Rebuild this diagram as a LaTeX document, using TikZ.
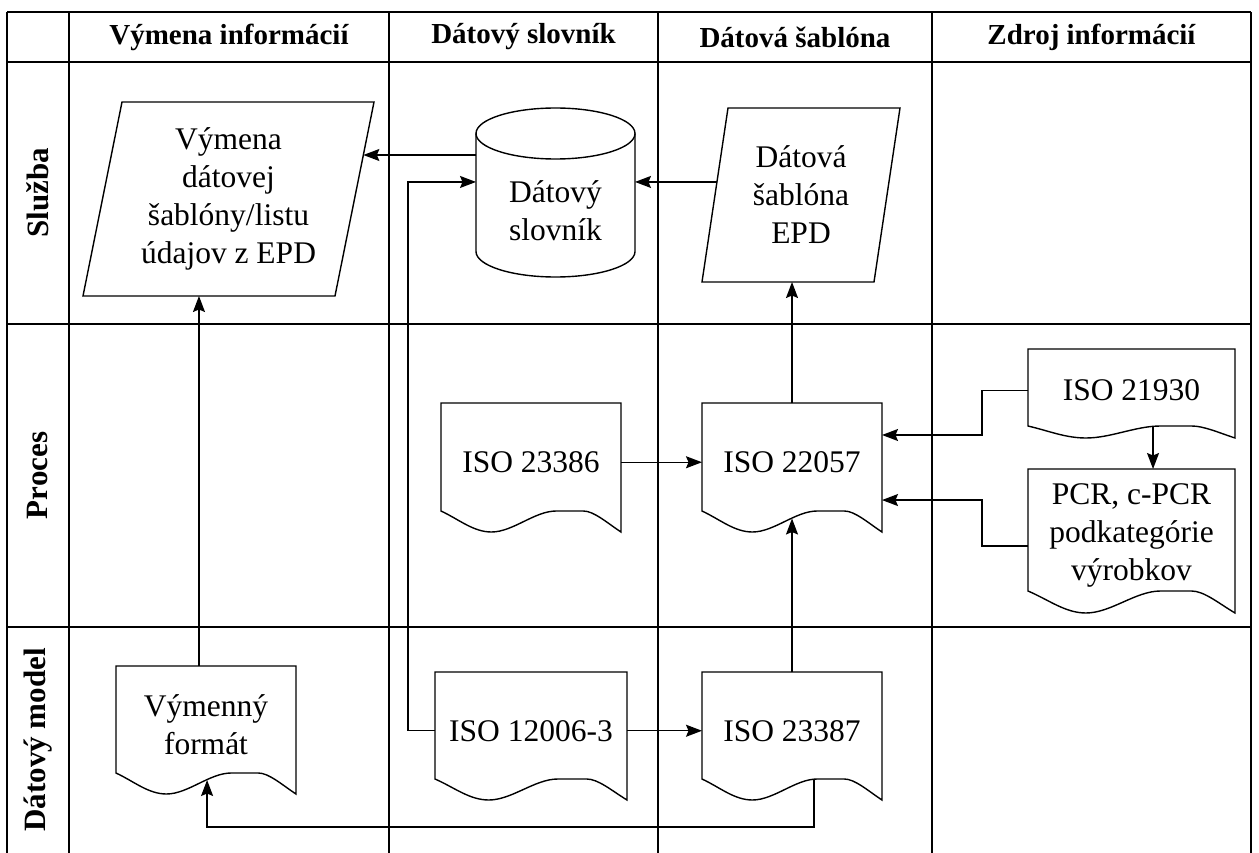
\documentclass[tikz,border=0pt]{standalone}
\usepackage{fontspec}
\setmainfont{Liberation Serif}
\usetikzlibrary{arrows.meta,calc}
\newcommand{\mainfs}{\fontsize{31.5}{38}\selectfont}
\newcommand{\hdrfs}{\fontsize{29}{34}\selectfont\bfseries}
\newcommand{\rowfs}{\fontsize{31}{36}\selectfont\bfseries}
% document outline: #1 node name, #2 half wave amplitude
\newcommand{\docout}[2]{%
 \draw[outl] ($(#1.south west)+(0,-#2)$) -- (#1.north west) -- (#1.north east) -- ($(#1.south east)+(0,#2)$)
  .. controls ($(#1.south west)!0.92!(#1.south east)+(0,0.1*#2)$) and ($(#1.south west)!0.85!(#1.south east)+(0,-#2)$) .. ($(#1.south west)!0.79!(#1.south east)+(0,-#2)$)
  -- ($(#1.south west)!0.64!(#1.south east)+(0,-#2)$)
  .. controls ($(#1.south west)!0.52!(#1.south east)+(0,-#2)$) and ($(#1.south west)!0.40!(#1.south east)+(0,#2)$) .. ($(#1.south west)!0.28!(#1.south east)+(0,#2)$)
  .. controls ($(#1.south west)!0.18!(#1.south east)+(0,#2)$) and ($(#1.south west)!0.10!(#1.south east)+(0,-0.2*#2)$) .. ($(#1.south west)+(0,-#2)$) -- cycle;}
% parallelogram outline: #1 node, #2 slant
\newcommand{\paraout}[2]{\draw[outl] (#1.south west) -- ($(#1.north west)+(#2,0)$) -- (#1.north east) -- ($(#1.south east)+(-#2,0)$) -- cycle;}
% cylinder outline: #1 node, #2 x radius, #3 y radius, #4 offset of top ellipse centre above node top
\newcommand{\cylout}[4]{%
 \draw[outl] ($(#1.north)+(0,-#4)$) ellipse [x radius=#2, y radius=#3];
 \draw[outl] ($(#1.north west)+(0,-#4)$) -- ($(#1.south west)+(0,-#3)$)
  .. controls ($(#1.south west)+(0,-#3+0.5523*#3)$) and ($(#1.south)+(-0.5523*#2,0)$) .. (#1.south)
  .. controls ($(#1.south)+(0.5523*#2,0)$) and ($(#1.south east)+(0,-#3+0.5523*#3)$) .. ($(#1.south east)+(0,-#3)$) -- ($(#1.north east)+(0,-#4)$);}
\begin{document}
\begin{tikzpicture}[x=1pt,y=-1pt,
  grid/.style={line width=1.5pt,black},
  outl/.style={line width=1.4pt,black,line join=miter},
  arr/.style={line width=1.4pt,black,-{Stealth[length=16pt,width=12pt,inset=2.5pt]}},
  shp/.style={draw=none,inner sep=0pt,outer sep=0pt,align=center,font=\mainfs},
  hdr/.style={inner sep=0pt,font=\hdrfs},
  rowlab/.style={inner sep=0pt,font=\rowfs,rotate=90}]
\useasboundingbox (0,0) rectangle (1259,853);
\fill[white] (0,0) rectangle (1259,853);
% grid
\foreach \x in {7,69,389,658,932,1251} \draw[grid] (\x,12) -- (\x,853);
\foreach \y in {12,62,324,627} \draw[grid] (7,\y) -- (1251,\y);
% headers
\node[hdr] (h1) at (229,37) {Výmena informácií};
\node[hdr] (h2) at (523.5,37) {Dátový slovník};
\node[hdr] (h3) at (795,37) {Dátová šablóna};
\node[hdr] (h4) at (1091.5,37) {Zdroj informácií};
\node[rowlab] (r1) at (38,193) {Služba};
\node[rowlab] (r2) at (38,475.5) {Proces};
\node[rowlab] (r3) at (38,740) {Dátový model};
% shapes
\node[shp,minimum width=291pt,minimum height=194pt] (vym) at (228.5,199) {Výmena\\dátovej\\šablóny/listu\\údajov z EPD};
\paraout{vym}{39}
\node[shp,minimum width=198pt,minimum height=174pt] (epd) at (801,195) {Dátová\\šablóna\\EPD};
\paraout{epd}{26}
\node[shp,minimum width=159pt,minimum height=132pt] (cyl) at (555.5,211) {Dátový\\slovník};
\cylout{cyl}{79.5}{25.5}{11.5}
\node[shp,minimum width=180pt,minimum height=118.5pt] (d23386) at (531,462.25) {ISO 23386};
\docout{d23386}{10.5}
\node[shp,minimum width=180pt,minimum height=118.5pt] (d22057) at (792,462.25) {ISO 22057};
\docout{d22057}{10.5}
\node[shp,minimum width=207pt,minimum height=83pt] (d21930) at (1131.5,390.5) {ISO 21930};
\docout{d21930}{6}
\node[shp,minimum width=207pt,minimum height=133pt] (dpcr) at (1131.5,535.5) {PCR, c-PCR\\podkategórie\\výrobkov};
\docout{dpcr}{11}
\node[shp,minimum width=192pt,minimum height=117.5pt] (d12006) at (531,730.75) {ISO 12006-3};
\docout{d12006}{10.5}
\node[shp,minimum width=180pt,minimum height=117.5pt] (d23387) at (792,730.75) {ISO 23387};
\docout{d23387}{10.5}
\node[shp,minimum width=180pt,minimum height=117.5pt] (dvf) at (206,724.75) {Výmenný\\formát};
\docout{dvf}{10.5}
% helper coordinates
\coordinate (vymbr) at ($(vym.south east)+(-39,0)$);
\coordinate (epdtl) at ($(epd.north west)+(26,0)$);
\coordinate (cA) at ($(cyl.north west)!0.0758!(cyl.south west)$);
\coordinate (vA) at ($(vym.north east)!0.273!(vymbr)$);
\coordinate (eB) at ($(epdtl)!0.425!(epd.south west)$);
\coordinate (cB) at ($(cyl.north west)!0.280!(cyl.south west)$);
\coordinate (cBr) at ($(cyl.north east)!0.280!(cyl.south east)$);
\coordinate (tH) at ($(d22057.north east)!0.27!(d22057.south east)$);
\coordinate (sI) at ($(dpcr.north west)!0.579!(dpcr.south west)$);
\coordinate (tI) at ($(d22057.north east)!0.819!(d22057.south east)$);
\coordinate (sJ) at ($(d21930.south west)!0.604!(d21930.south east)+(0,-6)$);
\coordinate (sK) at ($(dvf.north west)!0.461!(dvf.north east)$);
\coordinate (sL) at ($(d23387.south west)!0.622!(d23387.south east)+(0,-10)$);
\coordinate (tL) at ($(dvf.south west)!0.506!(dvf.south east)+(0,-3.5)$);
% connectors
\draw[arr] (cA) -- (cA -| vA);
\draw[arr] (eB) -- (eB -| cBr);
\draw[arr] (d12006.west) -- ++(-27,0) |- (cB);
\draw[arr] (d12006.east) -- (d23387.west);
\draw[arr] (d23387.north) -- ($(d22057.south)+(0,-3)$);
\draw[arr] (d22057.north) -- (d22057.north |- epd.south);
\draw[arr] (d23386.east) -- (d22057.west);
\draw[arr] (d21930.west) -- ++(-46,0) |- (tH);
\draw[arr] (sI) -- ++(-46,0) |- (tI);
\draw[arr] (sJ) -- (sJ |- dpcr.north);
\draw[arr] (sK) -- (sK |- vym.south);
\draw[arr] (sL) -- ++(0,47.5) -| (tL);
\end{tikzpicture}
\end{document}
